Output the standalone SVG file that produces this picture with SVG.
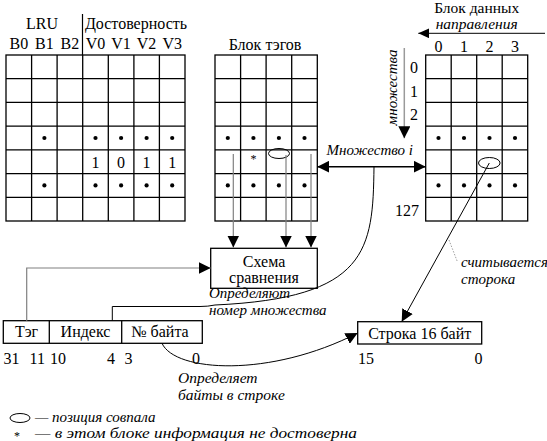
<svg xmlns="http://www.w3.org/2000/svg" width="547" height="441" viewBox="0 0 547 441" font-family="'Liberation Serif', 'Times New Roman', Tinos, 'DejaVu Serif', serif">
<style>
text{font-family:'Liberation Serif','Times New Roman',Tinos,'DejaVu Serif',serif;font-size:16px;fill:#000}
.c{text-anchor:middle}
.e{text-anchor:end}
.i{font-style:italic;font-size:15px}
.grid line,.grid rect{stroke:#000;stroke-width:1.3;fill:none}
.box{fill:#fff;stroke:#000;stroke-width:1.3}
.dot{fill:#000}
.ell{fill:none;stroke:#000;stroke-width:1}
.ln{fill:none;stroke:#000;stroke-width:1}
.gl{fill:none;stroke:#808080;stroke-width:1.2}
</style>
<defs>
<marker id="ah" markerUnits="userSpaceOnUse" markerWidth="12" markerHeight="12" refX="12" refY="6" orient="auto-start-reverse">
<path d="M0,0 L12,6 L0,12 z" fill="#000"/>
</marker>
<marker id="ahs" markerUnits="userSpaceOnUse" markerWidth="11" markerHeight="10" refX="11" refY="5" orient="auto-start-reverse">
<path d="M0,0 L11,5 L0,10 z" fill="#000"/>
</marker>
</defs>

<g id="lru-header">
<text x="42" y="29" class="c">LRU</text>
<text x="136" y="29" class="c">Достоверность</text>
<line x1="82.5" y1="14" x2="82.5" y2="55" stroke="#000" stroke-width="1.2"/>
<text x="18.8" y="48.5" class="c">B0</text>
<text x="44.4" y="48.5" class="c">B1</text>
<text x="69.9" y="48.5" class="c">B2</text>
<text x="95.5" y="48.5" class="c">V0</text>
<text x="121.1" y="48.5" class="c">V1</text>
<text x="146.6" y="48.5" class="c">V2</text>
<text x="172.2" y="48.5" class="c">V3</text>
</g>

<g id="lru-grid" class="grid">
<rect x="6" y="55" width="179" height="166"/>
<line x1="31.6" y1="55" x2="31.6" y2="221"/>
<line x1="57.1" y1="55" x2="57.1" y2="221"/>
<line x1="82.7" y1="55" x2="82.7" y2="221"/>
<line x1="108.3" y1="55" x2="108.3" y2="221"/>
<line x1="133.9" y1="55" x2="133.9" y2="221"/>
<line x1="159.4" y1="55" x2="159.4" y2="221"/>
<line x1="6" y1="78.7" x2="185" y2="78.7"/>
<line x1="6" y1="102.4" x2="185" y2="102.4"/>
<line x1="6" y1="126.1" x2="185" y2="126.1"/>
<line x1="6" y1="149.9" x2="185" y2="149.9"/>
<line x1="6" y1="173.6" x2="185" y2="173.6"/>
<line x1="6" y1="197.3" x2="185" y2="197.3"/>
<g class="dot">
<circle cx="44.4" cy="138" r="2.1"/><circle cx="95.5" cy="138" r="2.1"/><circle cx="121.1" cy="138" r="2.1"/><circle cx="146.6" cy="138" r="2.1"/><circle cx="172.2" cy="138" r="2.1"/>
<circle cx="44.4" cy="185.4" r="2.1"/><circle cx="95.5" cy="185.4" r="2.1"/><circle cx="121.1" cy="185.4" r="2.1"/><circle cx="146.6" cy="185.4" r="2.1"/><circle cx="172.2" cy="185.4" r="2.1"/>
</g>
<text x="95.5" y="168.3" class="c">1</text>
<text x="121.1" y="168.3" class="c">0</text>
<text x="146.6" y="168.3" class="c">1</text>
<text x="172.2" y="168.3" class="c">1</text>
</g>

<g id="tag-grid" class="grid">
<text x="265" y="50" class="c">Блок тэгов</text>
<rect x="215" y="55" width="102.3" height="166"/>
<line x1="240.6" y1="55" x2="240.6" y2="221"/>
<line x1="266.1" y1="55" x2="266.1" y2="221"/>
<line x1="291.7" y1="55" x2="291.7" y2="221"/>
<line x1="215" y1="78.7" x2="317.3" y2="78.7"/>
<line x1="215" y1="102.4" x2="317.3" y2="102.4"/>
<line x1="215" y1="126.1" x2="317.3" y2="126.1"/>
<line x1="215" y1="149.9" x2="317.3" y2="149.9"/>
<line x1="215" y1="173.6" x2="317.3" y2="173.6"/>
<line x1="215" y1="197.3" x2="317.3" y2="197.3"/>
<g class="dot">
<circle cx="227.8" cy="138" r="2.1"/><circle cx="253.4" cy="138" r="2.1"/><circle cx="278.9" cy="138" r="2.1"/><circle cx="304.5" cy="138" r="2.1"/>
<circle cx="227.8" cy="185.4" r="2.1"/><circle cx="253.4" cy="185.4" r="2.1"/><circle cx="278.9" cy="185.4" r="2.1"/><circle cx="304.5" cy="185.4" r="2.1"/>
</g>
<text x="253.4" y="162.5" class="c" style="font-size:12px">*</text>
<ellipse cx="279" cy="153.5" rx="10.5" ry="5" class="ell"/>
</g>

<g id="data-grid" class="grid">
<text x="476.7" y="12.5" class="c" style="font-size:15.5px">Блок данных</text>
<text x="476.7" y="29" class="c i" style="font-size:15.5px">направления</text>
<text x="438.5" y="51.5" class="c">0</text>
<text x="464" y="51.5" class="c">1</text>
<text x="489.5" y="51.5" class="c">2</text>
<text x="515" y="51.5" class="c">3</text>
<text x="414" y="72.5" class="c">0</text>
<text x="414" y="96.5" class="c">1</text>
<text x="414" y="120" class="c">2</text>
<text x="419" y="216" class="e">127</text>
<text transform="translate(397,87.5) rotate(-90)" class="c i">множества</text>
<rect x="425.7" y="55" width="102" height="166"/>
<line x1="451.2" y1="55" x2="451.2" y2="221"/>
<line x1="476.7" y1="55" x2="476.7" y2="221"/>
<line x1="502.2" y1="55" x2="502.2" y2="221"/>
<line x1="425.7" y1="78.7" x2="527.7" y2="78.7"/>
<line x1="425.7" y1="102.4" x2="527.7" y2="102.4"/>
<line x1="425.7" y1="126.1" x2="527.7" y2="126.1"/>
<line x1="425.7" y1="149.9" x2="527.7" y2="149.9"/>
<line x1="425.7" y1="173.6" x2="527.7" y2="173.6"/>
<line x1="425.7" y1="197.3" x2="527.7" y2="197.3"/>
<g class="dot">
<circle cx="438.5" cy="138" r="2.1"/><circle cx="464" cy="138" r="2.1"/><circle cx="489.5" cy="138" r="2.1"/><circle cx="515" cy="138" r="2.1"/>
<circle cx="438.5" cy="185.4" r="2.1"/><circle cx="464" cy="185.4" r="2.1"/><circle cx="489.5" cy="185.4" r="2.1"/><circle cx="515" cy="185.4" r="2.1"/>
</g>
<ellipse cx="489.3" cy="163" rx="10.8" ry="5.5" class="ell"/>
</g>

<g id="compare">
<rect x="210.7" y="248.3" width="106.6" height="40" class="box"/>
<text x="264" y="266.5" class="c">Схема</text>
<text x="264" y="283" class="c">сравнения</text>
</g>

<g id="address">
<rect x="3.3" y="320.7" width="199" height="22.6" class="box"/>
<line x1="49.3" y1="320.7" x2="49.3" y2="343.3" stroke="#000" stroke-width="1.3"/>
<line x1="121.7" y1="320.7" x2="121.7" y2="343.3" stroke="#000" stroke-width="1.3"/>
<text x="26.5" y="337" class="c">Тэг</text>
<text x="85.5" y="337" class="c">Индекс</text>
<text x="160" y="337" class="c">№ байта</text>
<text x="3.5" y="363.5">31</text>
<text x="45" y="363.5" class="e">11</text>
<text x="50" y="363.5">10</text>
<text x="115" y="363.5" class="e">4</text>
<text x="124.5" y="363.5">3</text>
<text x="200" y="363.5" class="e">0</text>
</g>

<g id="line16">
<rect x="357.7" y="321.7" width="124" height="22.3" class="box"/>
<text x="419.7" y="338.5" class="c">Строка 16 байт</text>
<text x="358" y="363.5">15</text>
<text x="482.5" y="363.5" class="e">0</text>
</g>

<g id="labels">
<text x="326.5" y="155" class="i">Множество i</text>
<text x="209" y="298" class="i">Определяют</text>
<text x="209" y="315" class="i">номер множества</text>
<text x="461" y="266.5" class="i">считывается</text>
<text x="461" y="284" class="i">сторока</text>
<text x="178" y="383" class="i" style="font-size:15.5px">Определяет</text>
<text x="178" y="400" class="i" style="font-size:15.5px">байты  в строке</text>
</g>

<g id="legend">
<ellipse cx="20" cy="418" rx="10" ry="4.5" class="ell"/>
<text x="35" y="422" class="i">— позиция совпала</text>
<text x="17" y="439.5" class="c" style="font-size:12px">*</text>
<text x="35" y="437.5" class="i" textLength="322" lengthAdjust="spacingAndGlyphs">— в этом блоке информация не достоверна</text>
</g>

<g id="connectors">
<line x1="545" y1="33.3" x2="418.3" y2="33.3" class="ln" marker-end="url(#ahs)"/>
<line x1="404.3" y1="48" x2="404.3" y2="138.3" stroke="#9a9a9a" stroke-width="1.5" marker-end="url(#ah)"/>
<line x1="317.3" y1="166.7" x2="425.7" y2="166.7" stroke="#000" stroke-width="1.5" marker-start="url(#ah)" marker-end="url(#ah)"/>
<line x1="233.3" y1="154" x2="233.3" y2="247.5" class="gl" marker-end="url(#ah)"/>
<line x1="286" y1="155" x2="286" y2="247.5" class="gl" marker-end="url(#ah)"/>
<line x1="311" y1="154" x2="311" y2="247.5" class="gl" marker-end="url(#ah)"/>
<path d="M26.7,320.7 V268 H210.7" class="gl" marker-end="url(#ah)"/>
<path d="M374,166.7 C373,250 368,298 215,305 Q208,306.5 200,306.5 H112.3 V320.7" class="ln"/>
<line x1="489.3" y1="163" x2="401.7" y2="321.7" class="ln" marker-end="url(#ah)"/>
<line x1="449" y1="240" x2="457.5" y2="262" stroke="#888" stroke-width="0.8" stroke-dasharray="1.5,1.5"/>
<path d="M162,343.3 C175,372 270,378 357.7,333" class="ln" marker-end="url(#ah)"/>
</g>
</svg>
